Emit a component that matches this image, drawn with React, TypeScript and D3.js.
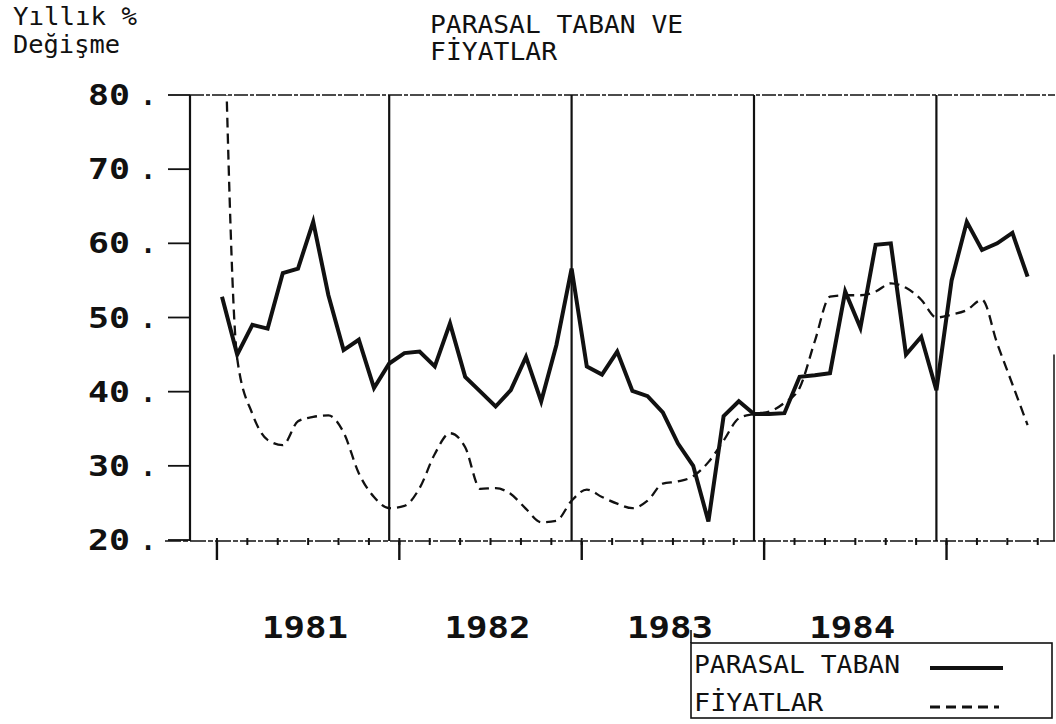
import React from 'react';
import * as d3 from 'd3';

// Monthly observations, Jan 1981 .. Jun 1985 (annual % change)
const parasalTaban = [52.8, 45.0, 49.0, 48.5, 56.0, 56.6, 62.9, 53.0, 45.6, 47.0, 40.5, 43.8,
  45.2, 45.4, 43.4, 49.2, 42.0, 40.0, 38.0, 40.2, 44.7, 38.7, 46.3, 56.6,
  43.4, 42.3, 45.4, 40.1, 39.4, 37.2, 33.0, 30.0, 22.5, 36.7, 38.7, 37.0,
  37.0, 37.1, 42.0, 42.2, 42.5, 53.5, 48.6, 59.8, 60.0, 45.0, 47.4, 40.2,
  55.0, 62.9, 59.1, 60.0, 61.4, 55.5];

const fiyatlar = [105, 44.5, 37.0, 33.5, 32.8, 36.0, 36.6, 36.8, 34.5, 29.0, 25.8, 24.3,
  24.6, 27.0, 31.6, 34.4, 32.5, 26.9, 27.0, 26.2, 24.2, 22.4, 22.6, 25.3,
  26.8, 25.8, 24.9, 24.3, 25.3, 27.6, 27.9, 28.6, 30.5, 33.4, 36.4, 37.0,
  37.3, 38.5, 40.5, 46.8, 52.8, 53.0, 53.0, 53.5, 54.6, 54.0, 52.4, 50.0,
  50.4, 51.0, 52.4, 46.5, 41.0, 35.5];

const yTickValues = [20, 30, 40, 50, 60, 70, 80];
const yearLabels = ['1981', '1982', '1983', '1984'];
const yearEndMonths = [11, 23, 35, 47]; // December of each year (divider lines)
const firstTickMonth = -1 / 3;

const MONO = '"DejaVu Sans Mono", monospace';

export default function App() {
  const W = 1056, H = 724;
  const x = d3.scaleLinear().domain([0, parasalTaban.length - 1]).range([222, 1027.6]);
  const y = d3.scaleLinear().domain([20, 80]).range([540, 95]);
  const plotLeft = 190, plotRight = 1055;
  const axisY = y(20) + 1;

  const minorTicks = d3.range(firstTickMonth, parasalTaban.length + 0.5, 2);
  const majorTicks = minorTicks.filter((_, i) => i % 6 === 0);

  const solid = d3.line<number>().x((_, i) => x(i)).y(d => y(d))(parasalTaban) || '';
  const dashed = d3.line<number>().x((_, i) => x(i)).y(d => y(d)).curve(d3.curveMonotoneX)(fiyatlar) || '';

  return (
    <svg width={W} height={H} style={{ position: 'absolute', left: 0, top: 0, background: '#fff' }}>
      <defs>
        <clipPath id="plot">
          <rect x={plotLeft} y={y(80)} width={plotRight - plotLeft} height={y(20) - y(80)} />
        </clipPath>
      </defs>

      {/* titles */}
      <g fontFamily={MONO} fontSize={24} fill="#111">
        <text x={13} y={25} textLength={124} lengthAdjust="spacingAndGlyphs">Yıllık %</text>
        <text x={13} y={53} textLength={107} lengthAdjust="spacingAndGlyphs">Değişme</text>
        <text x={430} y={33} textLength={253} lengthAdjust="spacingAndGlyphs">PARASAL TABAN VE</text>
        <text x={430} y={60} textLength={127} lengthAdjust="spacingAndGlyphs">FİYATLAR</text>
      </g>

      {/* frame */}
      <line x1={plotLeft} x2={plotRight} y1={y(80)} y2={y(80)} stroke="#111" strokeWidth={1.6} strokeDasharray="14 2 4 2" />
      <line x1={plotLeft} x2={plotLeft} y1={y(80)} y2={axisY} stroke="#111" strokeWidth={2.2} />
      <line x1={plotRight - 1} x2={plotRight - 1} y1={y(45)} y2={axisY} stroke="#111" strokeWidth={1.5} />
      {yearEndMonths.map(m => (
        <line key={m} x1={x(m)} x2={x(m)} y1={y(80)} y2={axisY} stroke="#111" strokeWidth={2.2} />
      ))}

      {/* y axis ticks and labels */}
      {yTickValues.map(v => (
        <g key={v}>
          <line x1={168} x2={plotLeft} y1={y(v)} y2={y(v)} stroke="#111" strokeWidth={1.8} />
          <text x={130} y={y(v) + 10} textAnchor="end" fontFamily={MONO} fontWeight="bold" fontSize={28}
            textLength={42} lengthAdjust="spacingAndGlyphs" fill="#111">{v}</text>
          <text x={148} y={y(v) + 10} textAnchor="middle" fontFamily={MONO} fontWeight="bold" fontSize={26} fill="#111">.</text>
        </g>
      ))}

      {/* x axis */}
      <line x1={165} x2={plotRight} y1={axisY} y2={axisY} stroke="#111" strokeWidth={1.6} strokeDasharray="16 2 5 2" />
      {minorTicks.map(m => (
        <line key={'mi' + m} x1={x(m)} x2={x(m)} y1={axisY - 3} y2={axisY + 4} stroke="#111" strokeWidth={2} />
      ))}
      {majorTicks.map(m => (
        <line key={'ma' + m} x1={x(m)} x2={x(m)} y1={axisY} y2={axisY + 19} stroke="#111" strokeWidth={2.4} />
      ))}
      {yearLabels.map((lab, i) => (
        <text key={lab} x={x(majorTicks[i] + 6) - 3} y={638} textAnchor="middle" fontFamily={MONO} fontWeight="bold"
          fontSize={30} textLength={86} lengthAdjust="spacingAndGlyphs" fill="#111">{lab}</text>
      ))}

      {/* series */}
      <g clipPath="url(#plot)">
        <path d={dashed} fill="none" stroke="#111" strokeWidth={2.3} strokeDasharray="10 6" />
        <path d={solid} fill="none" stroke="#111" strokeWidth={4} strokeLinejoin="miter" />
      </g>

      {/* legend */}
      <rect x={691} y={643} width={361} height={75} fill="none" stroke="#111" strokeWidth={1.6} />
      <line x1={691} x2={691} y1={630} y2={643} stroke="#111" strokeWidth={1.6} />
      <g fontFamily={MONO} fontSize={24} fill="#111">
        <text x={694} y={673} textLength={206} lengthAdjust="spacingAndGlyphs">PARASAL TABAN</text>
        <text x={694} y={711} textLength={129} lengthAdjust="spacingAndGlyphs">FİYATLAR</text>
      </g>
      <line x1={930} x2={1003} y1={668} y2={668} stroke="#111" strokeWidth={4} />
      <line x1={930} x2={999} y1={707} y2={707} stroke="#111" strokeWidth={3} strokeDasharray="10 6" />
    </svg>
  );
}
